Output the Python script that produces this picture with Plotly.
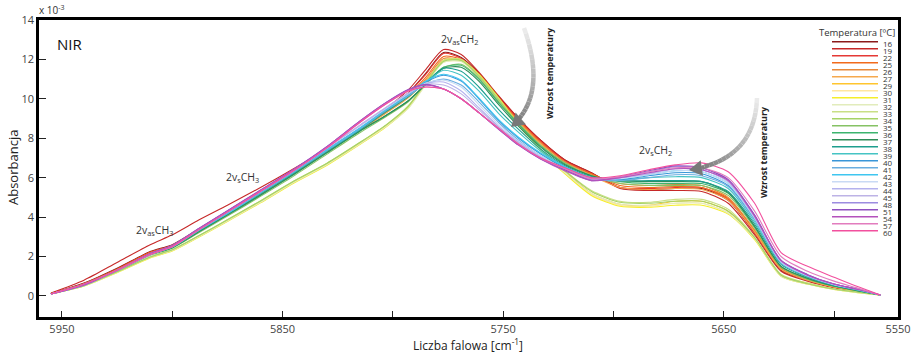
import plotly.graph_objects as go

# ---------------- data ----------------
wavenumber = [5955, 5940, 5925, 5910, 5900, 5888, 5875, 5860, 5845, 5830, 5815, 5803,
              5793, 5785, 5777, 5769, 5761, 5752, 5743, 5733, 5722, 5710, 5697, 5684,
              5672, 5660, 5648, 5636, 5624, 5612, 5600, 5590, 5579]

temperatures = ["16", "19", "22", "25", "26", "27", "29", "30", "31", "32", "33", "34", "35", "36",
                "37", "38", "39", "40", "41", "42", "43", "44", "45", "48", "51", "54", "57", "60"]

colors = ["#8B1A1A", "#C62828", "#E53935", "#F26A1B", "#E8893A", "#F6A94E", "#FFC52E", "#FFE6A0",
          "#F5EE2A", "#E2ECBC", "#C9DF86", "#A6D366", "#86C264", "#3CB46E", "#2E8B57", "#1E9E8E",
          "#45C4C4", "#3A96D8", "#6AAEE0", "#3FC6F0", "#C9DAF4", "#B4B2EE", "#BDB3E6", "#9C8CE0",
          "#9050C0", "#B452BC", "#E27CBE", "#F2509E"]

absorbance = [
    [0.12,0.65,1.4,2.25,2.6,3.4,4.3,5.3,6.3,7.35,8.45,9.4,10.3,11.3,12.35,12.1,11.3,10.1,9.0,7.9,6.9,6.25,5.5,5.4,5.45,5.45,4.85,3.2,1.3,0.8,0.45,0.25,0.05],
    [0.15,0.8,1.7,2.6,3.1,3.85,4.6,5.5,6.45,7.45,8.5,9.5,10.45,11.5,12.5,12.25,11.35,10.15,9.0,7.9,6.9,6.25,5.45,5.35,5.35,5.3,4.7,3.1,1.25,0.75,0.42,0.24,0.05],
    [0.12,0.63,1.37,2.22,2.57,3.37,4.27,5.27,6.27,7.32,8.42,9.37,10.27,11.25,12.3,12.05,11.25,10.05,8.95,7.85,6.85,6.2,5.5,5.45,5.5,5.5,4.9,3.2,1.35,0.8,0.45,0.25,0.05],
    [0.12,0.62,1.35,2.2,2.55,3.35,4.22,5.22,6.25,7.3,8.4,9.35,10.2,11.1,12.15,12.0,11.2,10.0,8.9,7.8,6.8,6.2,5.6,5.5,5.55,5.5,4.95,3.3,1.4,0.85,0.45,0.25,0.05],
    [0.1,0.6,1.32,2.15,2.52,3.3,4.18,5.18,6.22,7.3,8.4,9.3,10.1,11.0,12.05,11.95,11.15,9.95,8.85,7.75,6.8,6.15,5.7,5.6,5.65,5.6,5.0,3.35,1.45,0.85,0.45,0.25,0.05],
    [0.1,0.58,1.3,2.12,2.5,3.28,4.15,5.15,6.2,7.28,8.38,9.28,10.05,10.95,11.95,11.95,11.15,9.95,8.8,7.7,6.7,6.1,5.5,5.4,5.45,5.4,4.85,3.25,1.35,0.8,0.45,0.25,0.05],
    [0.1,0.52,1.22,1.97,2.32,3.02,3.82,4.78,5.78,6.7,7.75,8.65,9.6,10.8,11.95,11.95,11.2,10.0,8.7,7.4,6.3,5.2,4.65,4.6,4.8,4.8,4.3,2.95,1.05,0.65,0.35,0.2,0.05],
    [0.1,0.5,1.2,1.95,2.3,3.0,3.8,4.75,5.75,6.65,7.7,8.6,9.55,10.75,11.85,11.9,11.15,9.95,8.65,7.35,6.25,5.15,4.6,4.55,4.7,4.7,4.2,2.9,1.0,0.6,0.33,0.18,0.05],
    [0.1,0.5,1.18,1.93,2.28,2.98,3.78,4.72,5.72,6.62,7.68,8.58,9.55,10.78,11.95,12.0,11.25,10.05,8.7,7.35,6.2,5.1,4.55,4.5,4.6,4.6,4.15,2.85,1.0,0.6,0.33,0.18,0.05],
    [0.1,0.5,1.2,1.95,2.3,3.0,3.8,4.75,5.75,6.65,7.7,8.6,9.52,10.72,11.85,11.9,11.15,9.95,8.65,7.35,6.25,5.2,4.65,4.6,4.7,4.7,4.2,2.9,1.0,0.6,0.33,0.18,0.05],
    [0.1,0.52,1.22,1.98,2.34,3.05,3.86,4.82,5.82,6.72,7.78,8.68,9.65,10.85,11.95,12.0,11.2,10.0,8.7,7.45,6.35,5.35,4.8,4.75,4.9,4.9,4.4,3.0,1.1,0.65,0.35,0.2,0.05],
    [0.1,0.52,1.22,1.98,2.34,3.05,3.86,4.82,5.82,6.72,7.78,8.68,9.62,10.82,11.9,11.95,11.15,9.95,8.7,7.45,6.35,5.3,4.75,4.7,4.8,4.8,4.3,2.95,1.05,0.62,0.35,0.2,0.05],
    [0.1,0.58,1.28,2.06,2.42,3.2,4.05,5.05,6.08,7.18,8.28,9.1,9.85,10.75,11.6,11.75,11.05,9.85,8.75,7.65,6.75,6.1,5.7,5.6,5.6,5.6,5.1,3.45,1.45,0.85,0.48,0.27,0.05],
    [0.1,0.6,1.3,2.1,2.45,3.25,4.1,5.1,6.15,7.25,8.35,9.15,9.9,10.75,11.6,11.7,11.0,9.8,8.7,7.6,6.7,6.1,5.8,5.7,5.7,5.7,5.2,3.5,1.5,0.88,0.5,0.28,0.05],
    [0.1,0.6,1.3,2.1,2.45,3.25,4.12,5.12,6.17,7.27,8.37,9.17,9.9,10.75,11.55,11.6,10.9,9.7,8.6,7.55,6.65,6.1,5.85,5.8,5.8,5.8,5.25,3.55,1.5,0.9,0.5,0.28,0.05],
    [0.1,0.58,1.3,2.1,2.47,3.3,4.15,5.18,6.22,7.32,8.42,9.35,10.1,10.85,11.55,11.4,10.6,9.45,8.45,7.45,6.6,6.05,5.85,5.85,5.85,5.8,5.3,3.65,1.6,0.95,0.52,0.3,0.05],
    [0.1,0.57,1.3,2.1,2.48,3.32,4.18,5.22,6.26,7.36,8.46,9.4,10.15,10.85,11.45,11.2,10.4,9.25,8.3,7.35,6.55,6.0,5.9,6.0,6.05,6.0,5.45,3.75,1.65,0.98,0.55,0.32,0.05],
    [0.1,0.55,1.3,2.1,2.5,3.35,4.2,5.25,6.3,7.4,8.5,9.45,10.2,10.85,11.2,10.9,10.0,8.9,8.0,7.2,6.5,5.95,5.9,6.1,6.25,6.2,5.6,3.9,1.7,1.0,0.58,0.35,0.05],
    [0.1,0.55,1.28,2.08,2.48,3.33,4.18,5.23,6.28,7.38,8.48,9.43,10.15,10.75,11.0,10.7,9.85,8.8,7.9,7.1,6.45,5.95,5.85,6.0,6.15,6.1,5.55,3.85,1.68,1.0,0.57,0.33,0.05],
    [0.1,0.56,1.3,2.1,2.5,3.35,4.2,5.26,6.32,7.42,8.52,9.47,10.22,10.9,11.25,10.95,10.05,8.95,8.05,7.25,6.55,6.0,5.95,6.15,6.35,6.3,5.7,3.95,1.72,1.02,0.58,0.35,0.05],
    [0.1,0.55,1.3,2.12,2.52,3.37,4.25,5.3,6.35,7.48,8.6,9.52,10.25,10.8,10.95,10.6,9.7,8.7,7.85,7.1,6.45,5.95,5.95,6.15,6.35,6.3,5.7,3.95,1.72,1.02,0.58,0.35,0.05],
    [0.1,0.55,1.3,2.13,2.53,3.38,4.27,5.32,6.37,7.5,8.64,9.56,10.28,10.78,10.85,10.4,9.55,8.6,7.8,7.05,6.45,5.9,6.0,6.2,6.45,6.4,5.8,4.0,1.75,1.05,0.58,0.35,0.05],
    [0.1,0.55,1.3,2.14,2.54,3.39,4.28,5.33,6.38,7.52,8.66,9.58,10.28,10.74,10.7,10.25,9.45,8.55,7.75,7.0,6.4,5.9,6.0,6.2,6.45,6.4,5.8,4.0,1.75,1.05,0.58,0.35,0.05],
    [0.1,0.55,1.3,2.15,2.55,3.4,4.3,5.35,6.4,7.55,8.85,9.8,10.45,10.7,10.5,10.0,9.3,8.5,7.7,7.0,6.4,5.9,6.0,6.3,6.55,6.5,5.9,4.1,1.8,1.08,0.6,0.35,0.05],
    [0.1,0.55,1.3,2.15,2.56,3.42,4.32,5.37,6.42,7.57,8.87,9.82,10.47,10.72,10.5,10.0,9.3,8.45,7.65,6.95,6.4,5.85,6.05,6.35,6.6,6.5,5.9,4.1,1.8,1.08,0.6,0.35,0.05],
    [0.1,0.56,1.3,2.15,2.55,3.41,4.31,5.36,6.41,7.56,8.86,9.81,10.45,10.7,10.5,10.0,9.3,8.45,7.65,6.95,6.35,5.85,6.0,6.25,6.45,6.4,5.85,4.05,1.8,1.05,0.6,0.35,0.05],
    [0.1,0.6,1.3,2.1,2.5,3.35,4.25,5.3,6.35,7.5,8.8,9.75,10.4,10.6,10.5,10.0,9.3,8.5,7.7,7.0,6.45,5.95,6.05,6.3,6.5,6.5,6.0,4.3,2.0,1.25,0.75,0.42,0.05],
    [0.1,0.6,1.3,2.1,2.5,3.35,4.25,5.3,6.35,7.5,8.8,9.75,10.4,10.6,10.5,10.0,9.3,8.5,7.7,7.0,6.5,6.0,6.1,6.4,6.65,6.75,6.3,4.7,2.2,1.5,0.95,0.5,0.05],
]

x_tickvals = [5950, 5850, 5750, 5650, 5571]
x_ticktext = ["5950", "5850", "5750", "5650", "5550"]
x_minor_tickvals = [5900, 5800, 5700, 5600]
y_tickvals = [0, 2, 4, 6, 8, 10, 12, 14]

band_labels = ["2v<sub>as</sub>CH<sub>3</sub>", "2v<sub>s</sub>CH<sub>3</sub>",
               "2v<sub>as</sub>CH<sub>2</sub>", "2v<sub>s</sub>CH<sub>2</sub>"]
band_pos = [(5908, 3.3), (5868, 6.0), (5770, 13.0), (5681, 7.4)]

assert all(len(a) == len(wavenumber) for a in absorbance)

# ---------------- figure ----------------
L, R, T, B = 39, 898, 20, 317
W, H = 916, 358


def px(x):
    return (x - L) / (R - L)


def py(y):
    return (B - y) / (B - T)


FONT = "Open Sans"
fig = go.Figure()

for temp, col, ys in zip(temperatures, colors, absorbance):
    fig.add_trace(go.Scatter(x=wavenumber, y=ys, mode="lines", name=temp,
                             line=dict(color=col, width=1.1, shape="spline", smoothing=0.7),
                             showlegend=False, hoverinfo="skip"))

annotations = []
shapes = []


def note(xp, yp, text, size, color="#333333", angle=0, xanchor="center"):
    annotations.append(dict(x=px(xp), y=py(yp), xref="paper", yref="paper", text=text,
                            showarrow=False, xanchor=xanchor, yanchor="middle", textangle=angle,
                            font=dict(family=FONT, size=size, color=color)))


for txt, (xv, yv) in zip(band_labels, band_pos):
    annotations.append(dict(x=xv, y=yv, xref="x", yref="y", text=txt, showarrow=False,
                            xanchor="center", yanchor="middle",
                            font=dict(family=FONT, size=10.5, color="#333333")))

note(55, 44, "NIR", 15, "#111111", xanchor="left")
note(37, 10, "x 10<sup>-3</sup>", 10, "#333333", xanchor="left")
note(13, 168, "Absorbancja", 13, "#222222", angle=-90)
note(468, 345, "Liczba falowa [cm<sup>-1</sup>]", 12, "#222222")
note(549, 73, "<b>Wzrost temperatury</b>", 9, "#222222", angle=-90)
note(763, 152, "<b>Wzrost temperatury</b>", 9, "#222222", angle=-90)


# curved gray arrows (quadratic Bezier drawn as graded segments)
def bezier_arrow(p0, c, p1, head_len=13, head_w=8):
    n = 24
    pts = []
    for i in range(n + 1):
        t = i / n
        x = (1 - t) ** 2 * p0[0] + 2 * (1 - t) * t * c[0] + t ** 2 * p1[0]
        y = (1 - t) ** 2 * p0[1] + 2 * (1 - t) * t * c[1] + t ** 2 * p1[1]
        pts.append((x, y))
    dx, dy = p1[0] - c[0], p1[1] - c[1]
    d = (dx ** 2 + dy ** 2) ** 0.5
    ux, uy = dx / d, dy / d
    for i in range(n - 3):
        g = int(235 - 110 * i / (n - 3))
        colr = f"rgb({g},{g},{g})"
        (x0, y0), (x1, y1) = pts[i], pts[i + 1]
        shapes.append(dict(type="line", xref="paper", yref="paper",
                           x0=px(x0), y0=py(y0), x1=px(x1), y1=py(y1),
                           line=dict(color=colr, width=4.5)))
    tip = p1
    base = (tip[0] - ux * head_len, tip[1] - uy * head_len)
    shapes.append(dict(type="line", xref="paper", yref="paper",
                       x0=px(pts[n - 3][0]), y0=py(pts[n - 3][1]), x1=px(base[0]), y1=py(base[1]),
                       line=dict(color="rgb(125,125,125)", width=4.5)))
    nx, ny = -uy, ux
    a = (base[0] + nx * head_w, base[1] + ny * head_w)
    b = (base[0] - nx * head_w, base[1] - ny * head_w)
    path = f"M {px(tip[0])},{py(tip[1])} L {px(a[0])},{py(a[1])} L {px(b[0])},{py(b[1])} Z"
    shapes.append(dict(type="path", xref="paper", yref="paper", path=path,
                       fillcolor="rgb(120,120,120)", line=dict(width=0)))


bezier_arrow((524, 28), (548, 95), (511, 127))
bezier_arrow((757, 98), (755, 160), (689, 170))

# manual legend
note(857, 32, "Temperatura [ºC]", 9.5, "#333333")
for i, (temp, col) in enumerate(zip(temperatures, colors)):
    yy = 41.7 + 7.0 * i
    shapes.append(dict(type="line", xref="paper", yref="paper", x0=px(832), x1=px(878),
                       y0=py(yy), y1=py(yy), line=dict(color=col, width=1.6)))
    note(881, yy + 2, temp, 8, "#333333", xanchor="left")

fig.update_layout(
    width=W, height=H,
    margin=dict(l=L, r=W - R, t=T, b=H - B, autoexpand=False),
    paper_bgcolor="white", plot_bgcolor="white",
    font=dict(family=FONT, size=11, color="#444444"),
    xaxis=dict(range=[5960.4, 5571], tickmode="array", tickvals=x_tickvals, ticktext=x_ticktext,
               ticks="inside", ticklen=6, tickcolor="#222222", tickwidth=1,
               minor=dict(tickmode="array", tickvals=x_minor_tickvals, ticks="inside",
                          ticklen=6, tickcolor="#222222", tickwidth=1, showgrid=False),
               showline=True, mirror=True, linecolor="black", linewidth=2.5,
               showgrid=False, zeroline=False, automargin=False,
               tickfont=dict(size=11, color="#444444")),
    yaxis=dict(range=[-1.07, 14], tickvals=y_tickvals,
               ticks="inside", ticklen=7, tickcolor="#222222", tickwidth=1,
               showline=True, mirror=True, linecolor="black", linewidth=2.5,
               showgrid=False, zeroline=False, automargin=False,
               tickfont=dict(size=11, color="#444444")),
    annotations=annotations,
    shapes=shapes,
    showlegend=False,
)

fig.write_html("out.html", config={"displayModeBar": False},
               post_script="document.body.style.margin='0';document.body.style.padding='0';")
